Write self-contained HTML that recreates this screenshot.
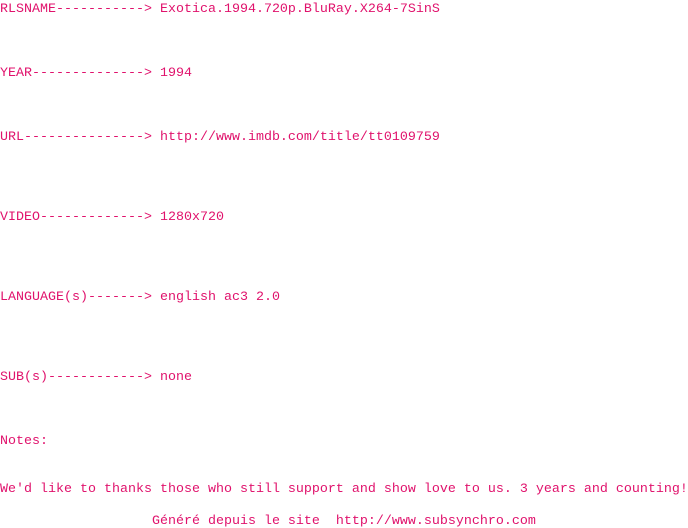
<!DOCTYPE html>
<html><head><meta charset="utf-8"><style>
html,body{margin:0;padding:0;background:#fff;width:688px;height:528px;overflow:hidden}
pre{margin:0;padding-top:2px;font-family:"Liberation Mono",monospace;font-size:13.33px;line-height:16px;color:#e0126c;white-space:pre}
</style></head><body><pre>RLSNAME-----------&gt; Exotica.1994.720p.BluRay.X264-7SinS



YEAR--------------&gt; 1994



URL---------------&gt; http://www.imdb.com/title/tt0109759




VIDEO-------------&gt; 1280x720




LANGUAGE(s)-------&gt; english ac3 2.0




SUB(s)------------&gt; none



Notes:


We'd like to thanks those who still support and show love to us. 3 years and counting!

                   Généré depuis le site  http://www.subsynchro.com</pre></body></html>
